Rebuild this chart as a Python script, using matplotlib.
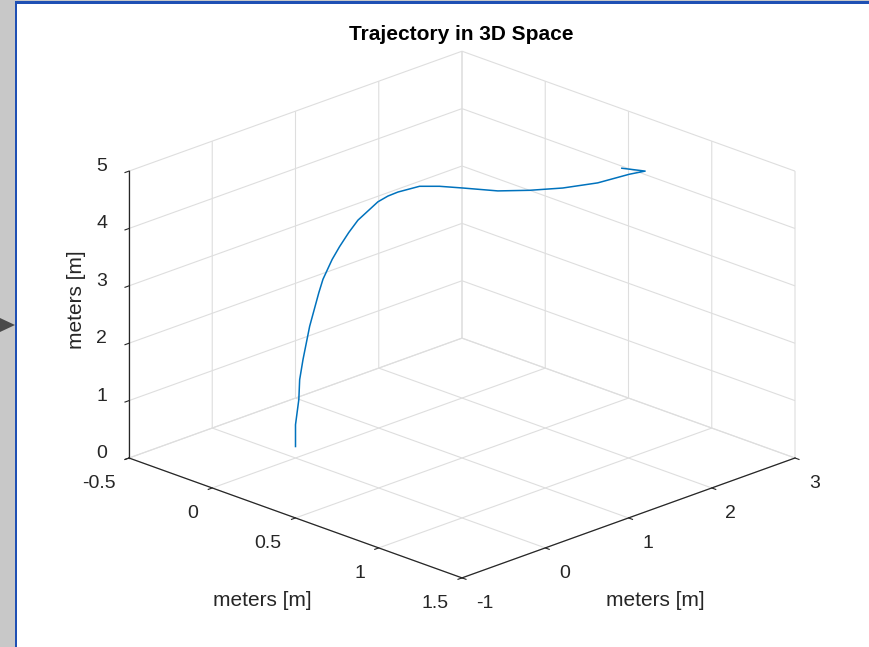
import numpy as np
import matplotlib
matplotlib.use('Agg')
import matplotlib.pyplot as plt
from matplotlib.patches import Rectangle, Polygon

# trajectory samples
px = [0.0, 0.0, 0.01, 0.01, 0.02, 0.04, 0.07, 0.08, 0.11, 0.13, 0.16, 0.19, 0.25, 0.28,
      0.31, 0.37, 0.43, 0.50, 0.61, 0.70, 0.80, 0.91, 1.00, 1.05, 0.98]
py = [0.0, 0.0, 0.02, 0.03, 0.05, 0.09, 0.14, 0.17, 0.22, 0.27, 0.32, 0.37, 0.49, 0.55,
      0.61, 0.75, 0.87, 1.01, 1.21, 1.41, 1.61, 1.81, 2.01, 2.10, 1.96]
pz = [0.20, 0.58, 1.02, 1.36, 1.71, 2.29, 2.88, 3.11, 3.46, 3.68, 3.93, 4.15, 4.47, 4.57,
      4.64, 4.73, 4.73, 4.70, 4.66, 4.66, 4.70, 4.80, 4.94, 5.00, 5.05]

xticks = [-0.5, 0, 0.5, 1, 1.5]
yticks = [-1, 0, 1, 2, 3]
zticks = [0, 1, 2, 3, 4, 5]

W, H = 869, 647
plt.rcParams['font.family'] = ['Liberation Sans', 'DejaVu Sans']
plt.rcParams['grid.color'] = '#dedede'
plt.rcParams['grid.linewidth'] = 0.8
txt = '#262626'

fig = plt.figure(figsize=(W/100, H/100), dpi=100)
ax = fig.add_axes([0.1, 0.1, 0.8, 0.8], projection='3d', proj_type='ortho')
ax.plot(px, py, pz, color='#0072bd', lw=1.1)

ax.set_xlim(-0.5, 1.5)
ax.set_ylim(-1, 3)
ax.set_zlim(0, 5)
ax.set_xticks(xticks)
ax.set_yticks(yticks)
ax.set_zticks(zticks)
ax.set_xticklabels(['-0.5', '0', '0.5', '1', '1.5'], ha='right')
ax.set_yticklabels([str(t) for t in yticks], ha='left')
ax.set_zticklabels([str(t) for t in zticks], va='baseline')
ax.view_init(elev=21.1, azim=-45)
ax.zaxis.set_ticks_position('lower')
ax.zaxis.set_label_position('lower')
aspect = (1, 1, 0.653)
zoom = 1.0
ax.set_box_aspect(aspect, zoom=zoom)

for a in (ax.xaxis, ax.yaxis, ax.zaxis):
    a.set_pane_color((1, 1, 1, 0))
    a.pane.set_edgecolor('#dedede')
    a.line.set_color(txt)
    a.line.set_linewidth(0.9)
    a._axinfo['tick']['color'] = txt
    a._axinfo['tick']['inward_factor'] = 0.15
    a._axinfo['tick']['outward_factor'] = 0.0
ax.tick_params(labelsize=14, colors=txt, pad=0)

fig.text(461/W, 1-35/H, 'Trajectory in 3D Space', ha='center', va='center',
         fontsize=15, weight='bold', color='black')
fig.text(262/W, 1-600/H, 'meters [m]', ha='center', va='center', fontsize=15, color=txt)
fig.text(655/W, 1-600/H, 'meters [m]', ha='center', va='center', fontsize=15, color=txt)
fig.text(77/W, 1-300/H, 'meters [m]', ha='center', va='center', fontsize=15,
         color=txt, rotation=90)


def corner(x, y, z):
    v = ax.get_proj() @ np.array([x, y, z, 1.0])
    return ax.transData.transform((v[0]/v[3], v[1]/v[3]))


# fit the box to the screenshot corners
for i in range(3):
    fig.canvas.draw()
    L = corner(-0.5, -1, 0)
    R = corner(1.5, 3, 0)
    zoom *= (795-129)/(R[0]-L[0])
    ax.set_box_aspect(aspect, zoom=zoom)
    fig.canvas.draw()
    L = corner(-0.5, -1, 0)
    pos = ax.get_position(original=True)
    ax.set_position([pos.x0+(129-L[0])/W, pos.y0+(H-458-L[1])/H, pos.width, pos.height])

# screenshot frame
fig.add_artist(Rectangle((0, 0), 15/W, 1, color='#c8c8c8', transform=fig.transFigure, lw=0))
fig.add_artist(Rectangle((15/W, 0), 2/W, 1, color='#1f50b4', transform=fig.transFigure, lw=0))
fig.add_artist(Rectangle((15/W, 1-1/H), 1, 1/H, color='#c8c8c8', transform=fig.transFigure, lw=0))
fig.add_artist(Rectangle((15/W, 1-3.5/H), 1, 2.5/H, color='#1f50b4', transform=fig.transFigure, lw=0))
fig.add_artist(Polygon([(0, 1-318/H), (15/W, 1-325/H), (0, 1-332/H)], closed=True,
                       color='#4a4a4a', transform=fig.transFigure, lw=0))

fig.savefig('out.png', dpi=100)
